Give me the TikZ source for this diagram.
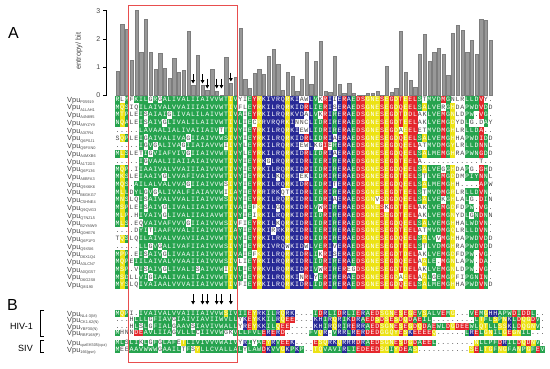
\documentclass[tikz,border=0pt]{standalone}
\usepackage{fontspec}
\setmainfont{Liberation Sans}
\newfontfamily\monof{Liberation Mono}
\usetikzlibrary{arrows.meta}
\definecolor{segG}{RGB}{38,163,78}
\definecolor{segY}{RGB}{236,226,20}
\definecolor{segR}{RGB}{228,38,44}
\definecolor{segB}{RGB}{40,42,150}
\definecolor{barF}{RGB}{152,152,152}
\definecolor{barD}{RGB}{125,125,125}
\definecolor{boxR}{RGB}{232,78,78}
\definecolor{txtD}{RGB}{70,70,70}
\makeatletter
\newcount\colidx
\def\pitch{4.724}
\def\xzero{117.5}
\def\cmap@g{segG}\def\cmap@y{segY}\def\cmap@r{segR}\def\cmap@b{segB}
\def\setres#1#2{\@namedef{res@#1}{#2}}
\setres Ag\setres Vg\setres Lg\setres Ig\setres Mg\setres Fg\setres Wg\setres Cg\setres Pg
\setres Sy\setres Ty\setres Ny\setres Qy\setres Gy\setres Yy
\setres Dr\setres Er\setres Kb\setres Rb\setres Hb
\setres Xw\setres Bw\setres Zw\setres Jw\setres Ow\setres Uw
\def\seqrow#1#2#3#4{\def\rowy{#1}\def\rowh{#2}\colidx=0
  \edef\@tmp{\noexpand\rowloop#3\relax#4\relax}\@tmp}
\def\rowloop#1#2\relax#3#4\relax{%
  \advance\colidx by 1\relax
  \drawcell{#1}{#3}%
  \ifx\relax#2\relax\expandafter\@gobble\else\expandafter\@firstofone\fi
  {\rowloop#2\relax#4\relax}}
\def\drawcell#1#2{%
  \pgfmathsetmacro\cx{\xzero+(\the\colidx-1)*\pitch}%
  \ifx.#1%
    \node[gapch] at (\cx,\rowy) {.};%
  \else
    \ifnum`#1>`Z\relax
      \node[wch] at (\cx,\rowy) {\uppercase{#1}};%
    \else
      \if x#2\edef\mc{\csname res@#1\endcsname}\else\edef\mc{#2}\fi
      \if w\mc
        \node[wch] at (\cx,\rowy) {#1};%
      \else
        \edef\mcol{\csname cmap@\mc\endcsname}%
        \fill[fill=\mcol] (\cx-\pitch/2-0.06,\rowy-\rowh/2-0.06) rectangle ++(\pitch+0.12,\rowh+0.12);%
        \node[cch] at (\cx,\rowy) {#1};%
      \fi
    \fi
  \fi}
\makeatother
\def\amap{gygwggggggggggggggggggggyggwgrybbbbbybbbrbggrbgbrbgrryyyryryryrrgygggrgywwgggrgww}
\def\bmap{xxxxxxxxxxxxxxxxxxxxxxxxxxxxxxxxxxxxxxxxxxxxxxxxxxxxxxxxxxxxxxxxxxxxxxxxxxxxxxxxxxxxxxxxxxx}
\newcommand\vsub[1]{\raisebox{-1.2pt}{\fontsize{3.9}{4}\selectfont #1}}
\tikzset{
  cch/.style={text=white, font=\monof\fontsize{6.6}{6.6}\selectfont, inner sep=0pt,
    text height=3.9pt, text depth=0pt, anchor=center},
  wch/.style={cch, text=txtD},
  gapch/.style={cch, text=txtD},
  lab/.style={anchor=base west, inner sep=0pt, font=\fontsize{7.4}{8}\selectfont, text=txtD},
  ticklab/.style={font=\fontsize{7}{8}\selectfont, text=txtD, inner sep=0pt},
  darr/.style={-{Triangle[length=3.4pt,width=3.6pt]}, line width=0.95pt, black},
  bracket/.style={line width=0.9pt, black},
}
\newcommand\arow[3]{%
  \pgfmathsetmacro\ry{99.5+(#1-1)*7.73}%
  \seqrow{\ry}{7.73}{#3}{\amap}%
  \node[lab] (la#1) at (67,\ry+2.7) {Vpu\vsub{#2}};}
\newcommand\brow[4]{%
  \seqrow{#2}{6.5}{#4}{\bmap}%
  \node[lab] (lb#1) at (67,#2+2.6) {Vpu\vsub{#3}};}
\begin{document}
\begin{tikzpicture}[x=1pt,y=-1pt]
\useasboundingbox (0,0) rectangle (550,368);
% entropy bars
\foreach \h [count=\i] in {0.87,2.53,2.34,1.24,3.01,1.53,2.69,1.53,0.92,1.49,
  0.96,0.61,1.32,0.84,0.91,2.26,0.36,1.42,0.36,0.18,
  0.94,0.15,0.03,1.35,0.45,0.65,2.38,0.59,0.27,0.78,
  0.94,0.74,1.39,1.64,1.10,0.20,0.84,0.68,0.15,0.59,
  1.53,0.40,1.23,1.94,0.17,0.13,1.38,0.40,0.10,0.45,
  0.09,0.03,0.03,0.07,0.07,0.15,0.03,1.04,0.12,0.27,
  2.26,0.84,0.54,0.31,1.45,2.16,1.20,1.54,1.66,1.45,
  0.73,2.21,2.49,2.33,1.55,1.95,1.47,2.69,2.68,1.95}{
  \pgfmathsetmacro\bx{117.5+(\i-1)*4.724}
  \fill[barF, draw=barD, line width=0.25pt] (\bx-1.65,95.5) rectangle (\bx+1.65,{95.5-\h*28.27});
}
% axis
\draw[line width=0.6pt] (106.7,10.7) -- (106.7,95.5);
\foreach \v in {0,1,2,3}{
  \draw[line width=0.6pt] (103.2,{95.5-\v*28.27}) -- (106.7,{95.5-\v*28.27});
  \node[ticklab, anchor=east] (t\v) at (100.5,{95.5-\v*28.27}) {\v};
}
\node[rotate=90, font=\fontsize{7.5}{8}\selectfont, text=txtD] (ylab) at (79,51) {entropy/ bit};
\node[font=\fontsize{16}{16}\selectfont] (pA) at (13.5,33) {A};
\node[font=\fontsize{16}{16}\selectfont] (pB) at (12.5,305) {B};
% panel A alignment
\arow{1}{P05919}{RlMFKILgRgALIVALIIAIVVWTIVyIEYRKIVRQRKIawLVkRIiERAEDSGNESEGDTEELStMVDMGnLrLLDVy.}
\arow{2}{A1LAH1}{MQSIqILAIVALVVAIIIAIVVWTIVfLEYRKILRQRKIDRLIERIsERAEDSGNESEGDQEELSALVErGHDAPWDVDD}
\arow{3}{A4N895}{MTPLeIsAIAIgLIVALILAIVWTIVAIEYRKILRQRKVDaLVkRIRERAEDSGNESEGDTDDLakLVEMGNLdPW.VG.}
\arow{4}{A9YZY9}{NQALeIsAIVgLIVALILAIIVWTIVLIEcRRVRQRKInncLIDRIRERAEDSGNESEGDTEELakLVEMGDYdLg.dAY}
\arow{5}{A3I7R4}{.....LAVAALIALIVAIIAIVtTIVYIEYRKILRQRKIewLIDRIRERAEDSGNESEGDaEELetMVDMGHLrLLDA..}
\arow{6}{Q6P0J1}{sQPLeIgAIVALIVAgIIAIVVWSIVYIEYRKILRQRKIDRLIDRIaERAEDSGNESEGDQEELSALVEMGHHAPWDIDD}
\arow{7}{Q9FXN0}{.....IgVgALIVAgIIAIAVVWiIVYLEYRKILRQRKIewLkgIeRERAEDSGNESEGDQEELatMVDMGYLrLLDNNL}
\arow{8}{A4MXB6}{MLSLetIgVIAFVIVgIIAIVVWTIVYLEYRKILRQRKIDRLIDRIaERAEDSGNESEGDQEELSALMEMGHRAPWNGDD}
\arow{9}{A1T2D3}{.....IgVAALIIAIIAIAIVVWTIVYIEYRKgLRQRKIDRLIERIRERAEDSGNESEGDTEELa............t..}
\arow{10}{Q6P136}{MQP.iIAAIVALVVAIIIAIVVWTIVYIEYRKILRQRKIDRIIDRIRERAEDSGNESEGDQEELSALVEgGHDAPg.GHD}
\arow{11}{A8BFA3}{MKSLeIAAIVgLVVAFIVAIVVWTIVYIEYRKILkQRKIekLIDRIRERAEDSGNESEGDTEELStLVEMGDDMPIYNNL}
\arow{12}{Q9X6K6}{MQS.AILALVALVVAgIIAIVVWsIVYIEYRKILRQRKIDRLIDRItERAEDSGNESEGDQEELSALMEMGHH....APW}
\arow{13}{B6GKG7}{MLLdYLgVgALIVALFIAIAVVWiIAYIEYRRIRKqtKIDRLIERIRERAEDSGNESEGDTEELStMVDMGRLrLLDVN.}
\arow{14}{C5HNE4}{MNSLqIsAIVALVVALIIAIVVWSIVYIEYRKILRQRKIDRLIDRIaERAEDSGNvSDGDQEELSALVEkGHLALg.DIN}
\arow{15}{Q9QVG3}{MSPLeIsAIVgLIVALIIAIVVWTIVAIEfKKILgQRKIDRLVwRIRERAEDSGNESkGDTEELakLVEMGDFdPW.VG.}
\arow{16}{Q7NZL5}{MLP.hIVAIVgLIVALIIAIAVWTIVYIEiRKILRQRKIDRIIDRIRERAEDSGNESEGDTEELakLVEMGNYdLgNDNN}
\arow{17}{B2YMW9}{MLS.eqVAIVAFVVVgIIAIVVWSIVfIEYRKILkQRKIDRLIDRIRERAEDSGNESEGDQEELSALVEMGHHALWDVN.}
\arow{18}{Q0HE76}{....dYItIAAFVVALIIAIVVWTIAYIEYRKIrRKRKIDRLIERIRERAEDSGNESEGDTEELatMVDMGQLrLLDVN.}
\arow{19}{Q6P1P3}{tQSLqILAIVALVVAVIIAIVVWTIVYIEYRKILRQRKIDRLIDRIRERAEDSGNESEGDQEELSALVvMGHHAPWDVDD}
\arow{20}{Q9X5I6}{.....LLgVgALIVAFIIAIVVWSIVYIEYRKIVRQwKIDwLVERIvERAEDSGNESEGDTEELStLVDMGHRAPWDVDD}
\arow{21}{D6X1Q4}{MPP.eIsAIVgLIVAAIIAIVVWTIVAIEfKKILRQRKIDRLIkRIsERAEDSGNESEGDTDELakLVEMGDFdPW.VG.}
\arow{22}{A3LCN7}{MQPeIILAIVALVVAAIIAIVVWSIVlIEYRKILRQRKIDRLIDRIRERAEDSGNESEGDQEELaALE.MGNLAPW.DA.}
\arow{23}{A0QG57}{MSP.vIsAIVgLIVALIsAIVVWiIVLIEYRKVLRQRKIDRIVwRIRERegDSGNESEGDTDELakLVEMGNLdPW.VG.}
\arow{24}{D6G2S8}{MSDLlVIgIAALIVALIIAIVVWTIVYIEYRKILRQRKInRLyERIRERAEDSGNESEGDaEELaALgEMGPFIPGNIN.}
\arow{25}{Q8I190}{MYSLqIVAIAALVVVAIIAIVVWTIVfIEYRKILRQRKIDRLIDRIRERAEDSGNESEGDQEELSALMEMGHHAPWDVND}
% panel A arrows
\foreach \c/\t/\b in {17/74/83.5,19/74/83.5,20/78.5/88.5,22/78.5/88.5,23/78.5/88.5,25/72.5/81.5}{
  \pgfmathsetmacro\ax{117.5+(\c-1)*4.724}
  \draw[darr] (\ax,\t) -- (\ax,\b);
}
% panel B alignment
\brow{1}{313.5}{NL4-3(M)}{MQPi.IVAIVALVVAIIIAIVVWSIVIIEYRKILRQRK....IDRLIDRLIERAEDSGNESEGEVSALVEMG...VEMGHHAPWDIDDL..}
\brow{2}{320}{CK1.62(N)}{...hLLLgFIAVgIAIVIAVIIWVLLyKEYKKILRQEE....KHIRQRIKDRAEDSDSESDQDAEIL.........LTFLSPNKLDQGDV.}
\brow{3}{326.5}{YBF30(N)}{...hLsLgFIALgAAVsIAVIVWALLyREYKKILQEE.....KHIRQRIRERRAEDSGNESEGDQDAEWLDGDEEWLQTLLSSKLDQGNV.}
\brow{4}{333}{RBF168(P)}{MhnnDEAVLIIAgVLLLcIIVVWgkVLLFVLERERD.....FVQR.VRRLRERDEDGGQYESKEEEEQ......LRELGNILGEGNIL...}
\brow{5}{343}{cpzEK505(cpz)}{MLsLIkLgFgLAFeTLIVIVVVWAIVyRIyAEYRVEEK....ESQRKQRRRDRAEDSGNESDGDAEEL........NLLPFDRILDQDNV.}
\brow{6}{349.5}{166(gsn)}{MeeAAVWWWgAAILtFsYLLCVALLALyLAWDKVVGKPKP..TQVAVIRLIEDEEDSGIYDEAS...........SELTGFNGFANPGFEV}
% panel B arrows
\foreach \c in {17,19,20,22,23,25}{
  \pgfmathsetmacro\ax{117.5+(\c-1)*4.724}
  \draw[darr] (\ax,294) -- (\ax,304.5);
}
% brackets and group labels
\draw[bracket] (44,310.7) -- (40.5,310.7) -- (40.5,336.7) -- (44,336.7);
\draw[bracket] (44,340) -- (40.5,340) -- (40.5,352.7) -- (44,352.7);
\node[font=\fontsize{9}{10}\selectfont] (hiv) at (21.5,326) {HIV-1};
\node[font=\fontsize{9}{10}\selectfont] (siv) at (25.5,348) {SIV};
% red box
\draw[boxR, line width=0.8pt] (128.6,5.3) rectangle (237.6,362.5);
\end{tikzpicture}
\end{document}
